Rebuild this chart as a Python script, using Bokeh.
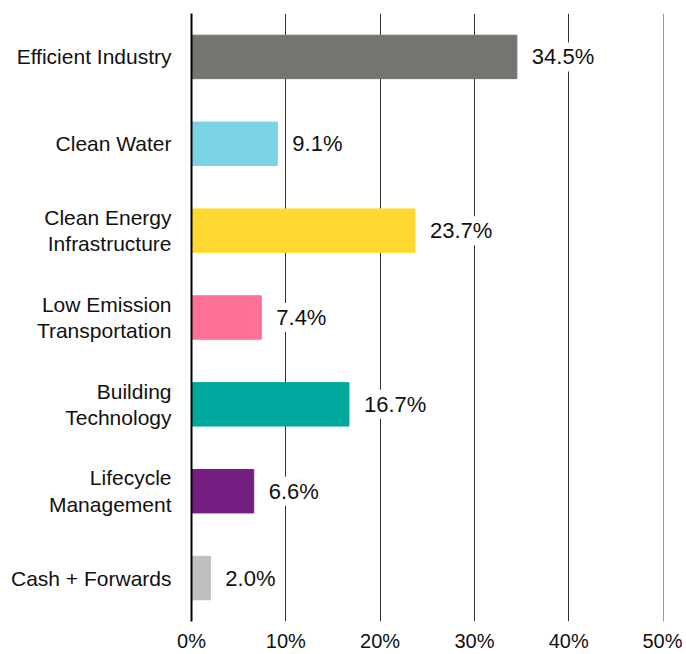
from bokeh.plotting import figure
from bokeh.models import ColumnDataSource, FactorRange, PrintfTickFormatter, FixedTicker
from bokeh.embed import file_html
from bokeh.resources import INLINE
from bokeh.core.properties import value

categories = ["Efficient Industry", "Clean Water", "Clean Energy\nInfrastructure",
              "Low Emission\nTransportation", "Building\nTechnology",
              "Lifecycle\nManagement", "Cash + Forwards"]
values = [34.5, 9.1, 23.7, 7.4, 16.7, 6.6, 2.0]
colors = ["#737570", "#7AD3E5", "#FFD932", "#FF7096", "#00A79D", "#751E81", "#BFBFBF"]
labels = ["34.5%", "9.1%", "23.7%", "7.4%", "16.7%", "6.6%", "2.0%"]
x_ticks = [0, 10, 20, 30, 40, 50]

src = ColumnDataSource(dict(cat=categories, val=values, color=colors, label=labels))

p = figure(width=682, height=654, output_backend="svg", toolbar_location=None,
           y_range=FactorRange(factors=categories[::-1], range_padding=0),
           x_range=(0, 50.05), min_border_left=191, min_border_right=19,
           min_border_top=13, min_border_bottom=30)

p.hbar(y="cat", right="val", left=0, height=0.5, color="color", source=src)
p.text(x="val", y="cat", text="label", source=src, x_offset=13,
       text_align="left", text_baseline="middle", text_font=value("Liberation Sans"),
       text_font_size="22px", text_color="#111111",
       background_fill_color="white", padding=2)

p.outline_line_color = None
p.ygrid.grid_line_color = None
p.xgrid.grid_line_color = "#333333"
p.xgrid.grid_line_width = 1
p.xaxis.ticker = FixedTicker(ticks=x_ticks)
p.xaxis.formatter = PrintfTickFormatter(format="%d%%")
p.xaxis.axis_line_color = None
p.xaxis.major_tick_line_color = None
p.xaxis.minor_tick_line_color = None
p.xaxis.major_tick_out = 0
p.xaxis.major_tick_in = 0
p.xaxis.minor_tick_out = 0
p.xaxis.major_label_standoff = 8
p.xaxis.major_label_text_font = "Liberation Sans"
p.xaxis.major_label_text_font_size = "20px"
p.xaxis.major_label_text_color = "#111111"

p.yaxis.axis_line_color = "black"
p.yaxis.axis_line_width = 2
p.yaxis.major_tick_line_color = None
p.yaxis.minor_tick_line_color = None
p.yaxis.major_label_standoff = 14
p.yaxis.major_label_text_font = "Liberation Sans"
p.yaxis.major_label_text_font_size = "21px"
p.yaxis.major_label_text_line_height = 1.15
p.yaxis.major_label_text_color = "#111111"

open("out.html", "w").write(file_html(p, INLINE))
